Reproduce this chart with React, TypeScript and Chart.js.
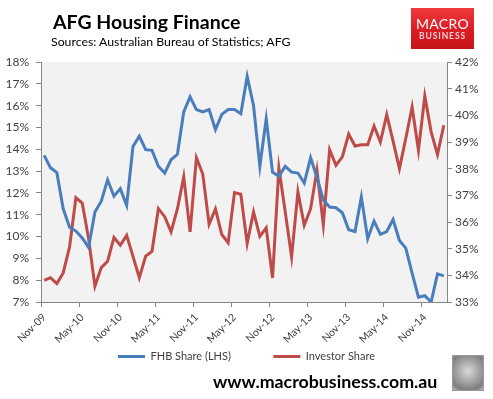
import React, { useEffect, useRef } from "react";
import { Chart, registerables } from "chart.js";

Chart.register(...registerables);

const months = [
  "Nov-09", "Dec-09", "Jan-10", "Feb-10", "Mar-10", "Apr-10", "May-10", "Jun-10", "Jul-10", "Aug-10", "Sep-10", "Oct-10",
  "Nov-10", "Dec-10", "Jan-11", "Feb-11", "Mar-11", "Apr-11", "May-11", "Jun-11", "Jul-11", "Aug-11", "Sep-11", "Oct-11",
  "Nov-11", "Dec-11", "Jan-12", "Feb-12", "Mar-12", "Apr-12", "May-12", "Jun-12", "Jul-12", "Aug-12", "Sep-12", "Oct-12",
  "Nov-12", "Dec-12", "Jan-13", "Feb-13", "Mar-13", "Apr-13", "May-13", "Jun-13", "Jul-13", "Aug-13", "Sep-13", "Oct-13",
  "Nov-13", "Dec-13", "Jan-14", "Feb-14", "Mar-14", "Apr-14", "May-14", "Jun-14", "Jul-14", "Aug-14", "Sep-14", "Oct-14",
  "Nov-14", "Dec-14", "Jan-15", "Feb-15",
];

// FHB share (left axis, %)
const fhbShare = [
  13.72, 13.15, 12.93, 11.27, 10.43, 10.25, 9.94, 9.51, 11.12, 11.62, 12.6, 11.85,
  12.19, 11.43, 14.13, 14.6, 13.98, 13.95, 13.22, 12.91, 13.52, 13.77, 15.71, 16.4,
  15.82, 15.71, 15.82, 14.9, 15.6, 15.82, 15.82, 15.63, 17.34, 16.01, 13.22, 15.4,
  12.95, 12.76, 13.22, 12.95, 12.91, 12.45, 13.61, 12.72, 11.68, 11.35, 11.32, 11.09,
  10.31, 10.23, 11.81, 9.9, 10.71, 10.1, 10.23, 10.78, 9.82, 9.47, 8.32, 7.22,
  7.29, 7.0, 8.29, 8.2,
];

// Investor share (right axis, %)
const investorShare = [
  33.81, 33.91, 33.69, 34.09, 35.06, 36.91, 36.71, 35.38, 33.59, 34.29, 34.53, 35.42,
  35.13, 35.5, 34.71, 33.91, 34.72, 34.9, 36.5, 36.2, 35.63, 36.49, 37.7, 35.63,
  38.41, 37.8, 35.92, 36.49, 35.53, 35.22, 37.1, 37.04, 35.19, 36.38, 35.46, 35.78,
  33.9, 38.02, 36.38, 34.69, 37.13, 35.88, 36.5, 37.94, 35.9, 38.71, 38.13, 38.44,
  39.3, 38.85, 38.9, 38.9, 39.6, 39.0, 40.03, 39.03, 38.0, 39.13, 40.31, 38.69,
  40.72, 39.38, 38.53, 39.63,
];

const seriesNames = ["FHB Share (LHS)", "Investor Share"];
const seriesColors = ["#4a7ebb", "#be4b48"];
const leftRange = [7, 18];
const rightRange = [33, 42];
const labelEvery = 6;

const FONT = "Lato, 'Open Sans', 'DejaVu Sans', sans-serif";
const AXIS = "#868686";
const TEXT = "#404040";

const plotBg = {
  id: "plotBg",
  beforeDraw(chart: any) {
    const { ctx, chartArea } = chart;
    ctx.save();
    ctx.fillStyle = "#ffffff";
    ctx.fillRect(0, 0, chart.width, chart.height);
    ctx.fillStyle = "#f2f2f2";
    ctx.fillRect(chartArea.left, chartArea.top, chartArea.right - chartArea.left, chartArea.bottom - chartArea.top);
    ctx.restore();
  },
};

export default function App() {
  const ref = useRef<HTMLCanvasElement | null>(null);

  useEffect(() => {
    if (!ref.current) return;
    const chart = new Chart(ref.current, {
      type: "line",
      data: {
        labels: months,
        datasets: [
          {
            label: seriesNames[0],
            data: fhbShare,
            borderColor: seriesColors[0],
            backgroundColor: seriesColors[0],
            borderWidth: 3,
            pointRadius: 0,
            tension: 0,
            yAxisID: "y",
          },
          {
            label: seriesNames[1],
            data: investorShare,
            borderColor: seriesColors[1],
            backgroundColor: seriesColors[1],
            borderWidth: 3,
            pointRadius: 0,
            tension: 0,
            yAxisID: "y1",
          },
        ],
      },
      options: {
        animation: false,
        responsive: false,
        maintainAspectRatio: false,
        layout: { padding: { top: 62, bottom: 27, left: 0, right: 0 } },
        plugins: {
          title: { display: false },
          tooltip: { enabled: false },
          legend: {
            position: "bottom",
            onClick: () => {},
            labels: {
              boxWidth: 27,
              boxHeight: 3,
              padding: 5,
              color: TEXT,
              font: { family: FONT, size: 11 },
              generateLabels: (c: any) => {
                const items = (Chart as any).defaults.plugins.legend.labels
                  .generateLabels(c)
                  .map((l: any) => ({ ...l, lineWidth: 0, fillStyle: l.strokeStyle }));
                const spacer = {
                  text: "",
                  fillStyle: "rgba(0,0,0,0)",
                  strokeStyle: "rgba(0,0,0,0)",
                  lineWidth: 0,
                  hidden: false,
                  fontColor: TEXT,
                };
                return [items[0], spacer, items[1]];
              },
            },
          },
        },
        scales: {
          x: {
            type: "category",
            offset: true,
            grid: {
              offset: true,
              drawOnChartArea: false,
              tickLength: 5,
              color: (ctx: any) => (ctx.index % labelEvery === 0 ? AXIS : "rgba(0,0,0,0)"),
            },
            border: { color: AXIS },
            ticks: {
              autoSkip: false,
              minRotation: 45,
              maxRotation: 45,
              padding: 4,
              color: TEXT,
              font: { family: FONT, size: 10.5 },
              callback: (_v: any, i: number) => (i % labelEvery === 0 ? months[i] : ""),
            },
            afterFit: (s: any) => {
              s.height = 44;
            },
          },
          y: {
            position: "left",
            min: leftRange[0],
            max: leftRange[1],
            grid: { drawOnChartArea: false, tickLength: 5, color: AXIS },
            border: { color: AXIS },
            ticks: {
              stepSize: 1,
              padding: 7,
              color: TEXT,
              font: { family: FONT, size: 12 },
              callback: (v: any) => v + "%",
            },
            afterFit: (s: any) => {
              s.width = 41;
            },
          },
          y1: {
            position: "right",
            min: rightRange[0],
            max: rightRange[1],
            grid: { drawOnChartArea: false, tickLength: 5, color: AXIS },
            border: { color: AXIS },
            ticks: {
              stepSize: 1,
              padding: 3,
              color: TEXT,
              font: { family: FONT, size: 12 },
              callback: (v: any) => v + "%",
            },
            afterFit: (s: any) => {
              s.width = 46;
            },
          },
        },
      },
      plugins: [plotBg],
    });
    return () => chart.destroy();
  }, []);

  return (
    <div style={{ position: "absolute", left: 0, top: 0, width: 493, height: 399, background: "#fff", fontFamily: FONT, overflow: "hidden" }}>
      <canvas ref={ref} width={493} height={399} style={{ position: "absolute", left: 0, top: 0, width: 493, height: 399 }} />
      <div style={{ position: "absolute", left: 53, top: 12.2, fontSize: 19.5, fontWeight: 700, lineHeight: "19.5px", color: "#000", whiteSpace: "nowrap" }}>
        AFG Housing Finance
      </div>
      <div style={{ position: "absolute", left: 51, top: 36.4, fontSize: 12.3, lineHeight: "12.3px", color: "#000", whiteSpace: "nowrap" }}>
        Sources: Australian Bureau of Statistics; AFG
      </div>
      <div
        style={{
          position: "absolute", left: 411, top: 8, width: 63, height: 41,
          background: "linear-gradient(180deg, #ef3a3c 0%, #d81b22 60%, #c3141b 100%)",
          color: "#fff", textAlign: "center",
        }}
      >
        <div style={{ position: "absolute", left: 0, right: 0, top: 9, fontSize: 14, lineHeight: "14px", letterSpacing: 0.3 }}>MACRO</div>
        <div style={{ position: "absolute", left: 0, right: 0, top: 24, fontSize: 8.5, lineHeight: "9px", fontWeight: 700, letterSpacing: 0.9, color: "#f6d0d0" }}>BUSINESS</div>
      </div>
      <div style={{ position: "absolute", left: 213, top: 372.5, fontSize: 17.8, lineHeight: "17.8px", fontWeight: 700, color: "#000", whiteSpace: "nowrap" }}>
        www.macrobusiness.com.au
      </div>
      <div
        style={{
          position: "absolute", left: 452, top: 355, width: 30, height: 34,
          border: "1px solid #9a9a9a",
          background: "radial-gradient(circle at 50% 45%, #d9d9d9 0%, #a5a5a5 45%, #7d7d7d 80%, #bcbcbc 100%)",
        }}
      />
    </div>
  );
}
